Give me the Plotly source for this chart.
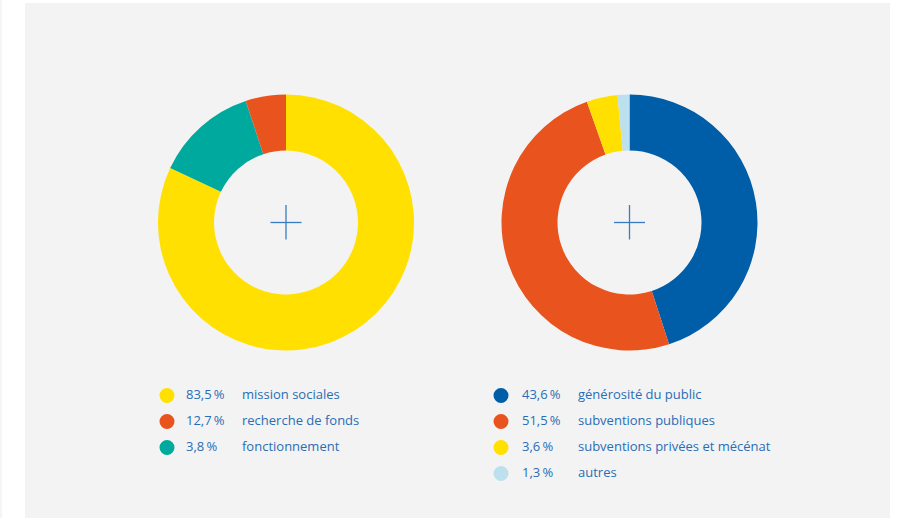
import plotly.graph_objects as go

W, H = 906, 518

# Left donut (slice sizes as drawn, clockwise from 12 o'clock)
left_slice_values = [82.0, 12.9, 5.1]
left_slice_colors = ["#FFE000", "#00A99D", "#E9531E"]
# Left legend
left_legend_pct = ["83,5\u2009%", "12,7\u2009%", "3,8\u2009%"]
left_legend_labels = ["mission sociales", "recherche de fonds", "fonctionnement"]
left_legend_colors = ["#FFE000", "#E9531E", "#00A99D"]

# Right donut (slice sizes as drawn, clockwise from 12 o'clock)
right_slice_values = [45.0, 49.6, 3.9, 1.5]
right_slice_colors = ["#005DA8", "#E9531E", "#FFE000", "#BDE0EE"]
right_legend_pct = ["43,6\u2009%", "51,5\u2009%", "3,6\u2009%", "1,3\u2009%"]
right_legend_labels = ["générosité du public", "subventions publiques",
                       "subventions privées et mécénat", "autres"]
right_legend_colors = ["#005DA8", "#E9531E", "#FFE000", "#BDE0EE"]

TEXT = "#2A6DB5"
FONT = "Open Sans"

def px_x(x):
    return x / W

def px_y(y):
    return 1 - y / H

R = 128
HOLE = 72 / 128
centers = [(286, 222.5), (629.5, 222.5)]

fig = go.Figure()
for (cx, cy), vals, cols in zip(centers,
                                [left_slice_values, right_slice_values],
                                [left_slice_colors, right_slice_colors]):
    fig.add_trace(go.Pie(
        values=vals,
        marker=dict(colors=cols, line=dict(width=0)),
        sort=False, direction="clockwise", rotation=0,
        hole=HOLE, textinfo="none", hoverinfo="skip",
        showlegend=False,
        domain=dict(x=[px_x(cx - R), px_x(cx + R)],
                    y=[px_y(cy + R), px_y(cy - R)]),
    ))

shapes = [
    dict(type="rect", xref="paper", yref="paper",
         x0=px_x(25), x1=px_x(890), y0=0, y1=px_y(3),
         fillcolor="#F3F3F3", line=dict(width=0), layer="below"),
    dict(type="rect", xref="paper", yref="paper",
         x0=0, x1=px_x(2), y0=0, y1=1,
         fillcolor="#F5F5F5", line=dict(width=0), layer="below"),
]
# plus marks at donut centers
for cx, cy in centers:
    shapes.append(dict(type="line", xref="paper", yref="paper",
                       x0=px_x(cx - 15.5), x1=px_x(cx + 15.5), y0=px_y(cy), y1=px_y(cy),
                       line=dict(color="#3A7CC0", width=1.3)))
    shapes.append(dict(type="line", xref="paper", yref="paper",
                       x0=px_x(cx), x1=px_x(cx), y0=px_y(cy - 17.5), y1=px_y(cy + 17),
                       line=dict(color="#3A7CC0", width=1.3)))

annotations = []
legends = [
    (167, 184, 240, left_legend_pct, left_legend_labels, left_legend_colors),
    (501, 520, 576, right_legend_pct, right_legend_labels, right_legend_colors),
]
row_y0, row_dy = 394, 26
for mx, tx, lx, pcts, labels, cols in legends:
    for i, (p, lab, c) in enumerate(zip(pcts, labels, cols)):
        y = row_y0 + i * row_dy
        shapes.append(dict(type="circle", xref="paper", yref="paper",
                           x0=px_x(mx - 7.5), x1=px_x(mx + 7.5),
                           y0=px_y(y + 9), y1=px_y(y - 6),
                           fillcolor=c, line=dict(width=0)))
        annotations.append(dict(xref="paper", yref="paper", x=px_x(tx), y=px_y(y),
                                text=p, showarrow=False, xanchor="left", yanchor="middle",
                                font=dict(family=FONT, size=13, color=TEXT)))
        annotations.append(dict(xref="paper", yref="paper", x=px_x(lx), y=px_y(y),
                                text=lab, showarrow=False, xanchor="left", yanchor="middle",
                                font=dict(family=FONT, size=13, color=TEXT)))

fig.update_layout(
    width=W, height=H,
    margin=dict(l=0, r=0, t=0, b=0),
    paper_bgcolor="white", plot_bgcolor="white",
    shapes=shapes, annotations=annotations,
)

fig.write_html("out.html",
               config={"displayModeBar": False},
               post_script="document.body.style.margin='0';document.body.style.overflow='hidden';")
